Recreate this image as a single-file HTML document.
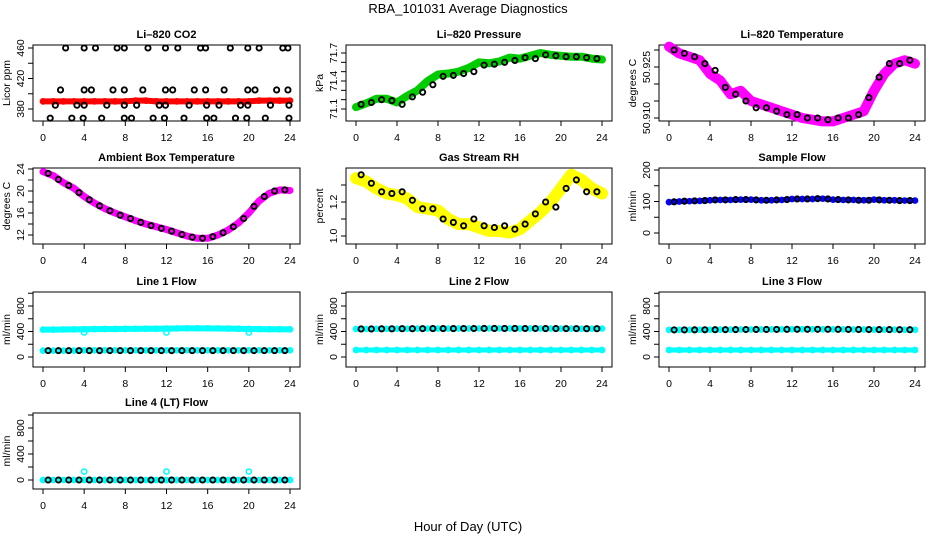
<!DOCTYPE html>
<html><head><meta charset="utf-8">
<style>
body{margin:0;background:#fff;}
svg{display:block;font-family:"Liberation Sans",sans-serif;}
</style></head>
<body>
<svg id="chart" width="936" height="540" viewBox="0 0 936 540">
<text x="468" y="13" text-anchor="middle" font-size="13">RBA_101031  Average Diagnostics</text>
<text x="468" y="531" text-anchor="middle" font-size="13">Hour of Day (UTC)</text>
</svg>
<script>
// ---- data ----
const hoursColor = [0,1,2,3,4,5,6,7,8,9,10,11,12,13,14,15,16,17,18,19,20,21,22,23,24];
const hoursBlack = [0.5,1.5,2.5,3.5,4.5,5.5,6.5,7.5,8.5,9.5,10.5,11.5,12.5,13.5,14.5,15.5,16.5,17.5,18.5,19.5,20.5,21.5,22.5,23.5];
const xTicks = [0,4,8,12,16,20,24];

const co2Red = [390,390,390,390,390,390,390,390,390,391,391,390,390,390,390,390,390,390,390,390,390,391,391,391,391];
const co2BlackHours = [2.2,4.0,5.1,7.2,7.9,10.2,11.9,13.1,15.3,15.8,18.2,19.9,21.0,23.3,23.8,
 1.7,4.0,4.7,6.8,7.9,9.7,11.9,12.6,14.7,15.8,17.6,19.9,20.6,22.7,23.8,
 1.2,3.3,4.0,6.2,7.9,9.1,11.3,11.9,14.2,15.9,17.1,19.2,19.9,22.1,23.9,
 0.7,2.8,3.9,5.7,7.9,8.6,10.7,11.8,13.7,15.9,16.6,18.7,19.8,21.6,23.9];
const co2BlackValues = [460,460,460,460,460,460,460,460,460,460,460,460,460,460,460,
 405,405,405,405,405,405,405,405,405,405,405,405,405,405,405,
 385,385,385,385,385,385,385,385,385,385,385,385,385,385,385,
 368,368,368,368,368,368,368,368,368,368,368,368,368,368,368];

const pressGreen = [71.12,71.16,71.21,71.21,71.17,71.24,71.30,71.40,71.47,71.48,71.50,71.54,71.60,71.59,71.61,71.65,71.64,71.67,71.70,71.68,71.67,71.66,71.66,71.64,71.63];
const pressBlack = [71.15,71.17,71.20,71.19,71.15,71.23,71.28,71.36,71.45,71.46,71.48,71.50,71.57,71.58,71.60,71.62,71.65,71.64,71.68,71.67,71.66,71.66,71.65,71.64];

const licTempMag = [50.931,50.929,50.928,50.927,50.923,50.921,50.917,50.918,50.915,50.914,50.913,50.912,50.911,50.910,50.9095,50.909,50.909,50.910,50.911,50.912,50.918,50.923,50.926,50.927,50.926];
const licTempBlack = [50.930,50.929,50.928,50.926,50.924,50.919,50.917,50.915,50.913,50.913,50.912,50.911,50.911,50.910,50.910,50.9095,50.910,50.910,50.911,50.916,50.922,50.926,50.926,50.927];

const ambMag = [23.5,22.8,21.5,20.5,19.0,17.8,16.8,16.0,15.3,14.6,14.0,13.5,13.0,12.4,11.8,11.4,11.4,12.0,12.9,14.2,16.0,18.2,19.6,20.2,20.1];
const ambBlack = [23.2,22.1,21.0,19.7,18.4,17.3,16.4,15.6,15.0,14.3,13.7,13.2,12.7,12.1,11.6,11.4,11.7,12.4,13.5,15.0,17.2,19.0,20.0,20.2];

const rhYellow = [1.34,1.32,1.28,1.25,1.24,1.22,1.17,1.16,1.15,1.10,1.07,1.07,1.05,1.03,1.03,1.02,1.04,1.09,1.14,1.20,1.28,1.36,1.33,1.28,1.25];
const rhBlack = [1.36,1.31,1.26,1.25,1.26,1.21,1.16,1.16,1.10,1.08,1.06,1.10,1.06,1.05,1.06,1.04,1.07,1.13,1.20,1.17,1.28,1.33,1.26,1.26];

const sampleBlue = [98,100,101,102,104,105,105,106,106,104,104,105,108,108,108,109,106,105,105,104,106,104,104,103,103];
const sampleBlack = [99,101,102,103,105,105,106,106,105,104,105,106,108,108,109,108,106,105,104,104,105,104,103,103];

const line1CyanHigh = [430,430,432,434,436,438,440,440,441,442,443,444,446,448,450,450,450,448,446,444,440,438,436,435,434];
const line1CyanLow = [100,100,100,100,105,105,105,105,105,105,105,105,105,105,105,105,105,105,105,105,105,105,105,105,105];
const line1Black = [100,100,100,100,100,100,100,100,100,100,100,100,100,100,100,100,100,100,100,100,100,100,100,100];
const line1OutHours = [4,12,20];
const line1OutValues = [385,385,385];

const line2CyanLow = [110,110,110,110,110,110,110,110,110,110,110,110,110,110,110,110,110,110,110,110,110,110,110,110,110];
const line2Black = [440,440,442,442,444,444,445,446,446,446,447,447,448,448,448,448,447,447,446,446,445,445,444,444];

const line3CyanLow = [110,110,110,110,110,110,110,110,110,110,110,110,110,110,110,110,110,110,110,110,110,110,110,110,110];
const line3Black = [425,425,426,427,428,429,430,431,432,432,433,434,435,435,435,435,434,433,432,431,430,430,429,428];

const line4Cyan = [0,0,0,0,0,0,0,0,0,0,0,0,0,0,0,0,0,0,0,0,0,0,0,0,0];
const line4Black = [0,0,0,0,0,0,0,0,0,0,0,0,0,0,0,0,0,0,0,0,0,0,0,0];
const line4OutHours = [4,12,20];
const line4OutValues = [130,130,130];

// ---- drawing ----
const NS = "http://www.w3.org/2000/svg";
const svg = document.getElementById("chart");
function mk(tag, attrs, parent){
  const e = document.createElementNS(NS, tag);
  for (const k in attrs) e.setAttribute(k, attrs[k]);
  (parent||svg).appendChild(e);
  return e;
}
const cols = [[33,300],[346,612],[659,925]];
const rows = [[45,121],[168,244],[292,367],[413,489]];

function panel(p){
  const [L,R] = cols[p.col], [T,B] = rows[p.row];
  const g = mk("g", {});
  
  
  const xs = h => (L+10) + h*((R-10)-(L+10))/24;
  const ys = v => p.y0p + (v - p.y0) * (p.y1p - p.y0p) / (p.y1 - p.y0);
  const box = mk("rect", {x:L, y:T, width:R-L, height:B-T, fill:"none", stroke:"#000", "stroke-width":1}, g);
  
  
  const t = mk("text", {x:(L+R)/2, y:T-7, "text-anchor":"middle", "font-size":11, "font-weight":"bold"}, g);
  t.textContent = p.title;
  
  
  xTicks.forEach(h => {
    const tk = mk("line", {x1:xs(h), x2:xs(h), y1:B, y2:B+5, stroke:"#000"}, g);
    
    
    const tl = mk("text", {x:xs(h), y:B+20, "text-anchor":"middle", "font-size":10.5}, g);
    tl.textContent = h;
    
    
  });
  p.yTicks.forEach(v => {
    const y = ys(v);
    const tk = mk("line", {x1:L-5, x2:L, y1:y, y2:y, stroke:"#000"}, g);
    
    
  });
  p.yLabels.forEach(v => {
    const y = ys(v);
    const tl = mk("text", {x:0, y:0, "text-anchor":"middle", "font-size":10.5, transform:`translate(${L-9},${y}) rotate(-90)`}, g);
    tl.textContent = p.fmt ? v.toFixed(p.fmt) : v;
    
    
  });
  const yt = mk("text", {x:0, y:0, "text-anchor":"middle", "font-size":10.5, transform:`translate(${L-23},${(T+B)/2}) rotate(-90)`}, g);
  yt.textContent = p.ylab;
  
  
  p.series.forEach(s => {
    if (s.band) {
      const pl = mk("polyline", {points:s.x.map((h,i)=>xs(h)+","+ys(s.y[i])).join(" "), fill:"none", stroke:s.color, "stroke-width":s.band, "stroke-linejoin":"round", "stroke-linecap":"round"}, g);
      
      
    }
    const sw = s.color === "#000" ? 1.9 : 1.5;
    s.x.forEach((h,i) => {
      const c = mk("circle", {cx:xs(h), cy:ys(s.y[i]), r:2.6, fill:"none", stroke:s.color, "stroke-width":sw}, g);
      
      
    });
  });
}

panel({name:"panel-co2", title:"Li\u2013820 CO2", ylab:"Licor ppm", col:0,row:0, y0:380,y0p:109,y1:460,y1p:48,
  yTicks:[380,400,420,440,460], yLabels:[380,420,460],
  series:[{name:"co2-red", x:hoursColor, y:co2Red, color:"#f00", band:6},
          {name:"co2-black", x:co2BlackHours, y:co2BlackValues, color:"#000"}]});
panel({name:"panel-pressure", title:"Li\u2013820 Pressure", ylab:"kPa", col:1,row:0, y0:71.1,y0p:109,y1:71.7,y1p:53,
  yTicks:[71.1,71.2,71.3,71.4,71.5,71.6,71.7], yLabels:[71.1,71.4,71.7], fmt:1,
  series:[{name:"pressure-green", x:hoursColor, y:pressGreen, color:"#0c0", band:8},
          {name:"pressure-black", x:hoursBlack, y:pressBlack, color:"#000"}]});
panel({name:"panel-li-temp", title:"Li\u2013820 Temperature", ylab:"degrees C", col:2,row:0, y0:50.910,y0p:118,y1:50.925,y1p:67,
  yTicks:[50.910,50.915,50.920,50.925,50.930], yLabels:[50.910,50.925], fmt:3,
  series:[{name:"li-temp-magenta", x:hoursColor, y:licTempMag, color:"#f0f", band:10},
          {name:"li-temp-black", x:hoursBlack, y:licTempBlack, color:"#000"}]});
panel({name:"panel-ambient-temp", title:"Ambient Box Temperature", ylab:"degrees C", col:0,row:1, y0:12,y0p:235,y1:24,y1p:169,
  yTicks:[12,14,16,18,20,22,24], yLabels:[12,16,20,24],
  series:[{name:"ambient-magenta", x:hoursColor, y:ambMag, color:"#f0f", band:7},
          {name:"ambient-black", x:hoursBlack, y:ambBlack, color:"#000"}]});
panel({name:"panel-rh", title:"Gas Stream RH", ylab:"percent", col:1,row:1, y0:1.0,y0p:236,y1:1.2,y1p:202,
  yTicks:[1.0,1.1,1.2,1.3], yLabels:[1.0,1.2], fmt:1,
  series:[{name:"rh-yellow", x:hoursColor, y:rhYellow, color:"#ff0", band:12},
          {name:"rh-black", x:hoursBlack, y:rhBlack, color:"#000"}]});
panel({name:"panel-sample-flow", title:"Sample Flow", ylab:"ml/min", col:2,row:1, y0:0,y0p:233,y1:200,y1p:170,
  yTicks:[0,50,100,150,200], yLabels:[0,100,200],
  series:[{name:"sample-blue", x:hoursColor, y:sampleBlue, color:"#00f", band:5},
          {name:"sample-black", x:hoursBlack, y:sampleBlack, color:"#000"}]});
const flowTicks = [0,200,400,600,800,1000];
panel({name:"panel-line1-flow", title:"Line 1 Flow", ylab:"ml/min", col:0,row:2, y0:0,y0p:357,y1:800,y1p:306,
  yTicks:flowTicks, yLabels:[0,400,800],
  series:[{name:"line1-cyan-high", x:hoursColor, y:line1CyanHigh, color:"#0ff", band:6},
          {name:"line1-cyan-low", x:hoursColor, y:line1CyanLow, color:"#0ff", band:5},
          {name:"line1-cyan-outlier", x:line1OutHours, y:line1OutValues, color:"#0ff"},
          {name:"line1-black", x:hoursBlack, y:line1Black, color:"#000"}]});
panel({name:"panel-line2-flow", title:"Line 2 Flow", ylab:"ml/min", col:1,row:2, y0:0,y0p:357,y1:800,y1p:306,
  yTicks:flowTicks, yLabels:[0,400,800],
  series:[{name:"line2-cyan-low", x:hoursColor, y:line2CyanLow, color:"#0ff", band:5},
          {name:"line2-cyan-high", x:hoursColor, y:line2Black.concat([446]), color:"#0ff", band:5},
          {name:"line2-black", x:hoursBlack, y:line2Black, color:"#000"}]});
panel({name:"panel-line3-flow", title:"Line 3 Flow", ylab:"ml/min", col:2,row:2, y0:0,y0p:357,y1:800,y1p:306,
  yTicks:flowTicks, yLabels:[0,400,800],
  series:[{name:"line3-cyan-low", x:hoursColor, y:line3CyanLow, color:"#0ff", band:5},
          {name:"line3-cyan-high", x:hoursColor, y:line3Black.concat([428]), color:"#0ff", band:5},
          {name:"line3-black", x:hoursBlack, y:line3Black, color:"#000"}]});
panel({name:"panel-line4-flow", title:"Line 4 (LT) Flow", ylab:"ml/min", col:0,row:3, y0:0,y0p:480,y1:800,y1p:428,
  yTicks:flowTicks, yLabels:[0,400,800],
  series:[{name:"line4-cyan", x:hoursColor, y:line4Cyan, color:"#0ff", band:5},
          {name:"line4-cyan-outlier", x:line4OutHours, y:line4OutValues, color:"#0ff"},
          {name:"line4-black", x:hoursBlack, y:line4Black, color:"#000"}]});
</script>
</body></html>
